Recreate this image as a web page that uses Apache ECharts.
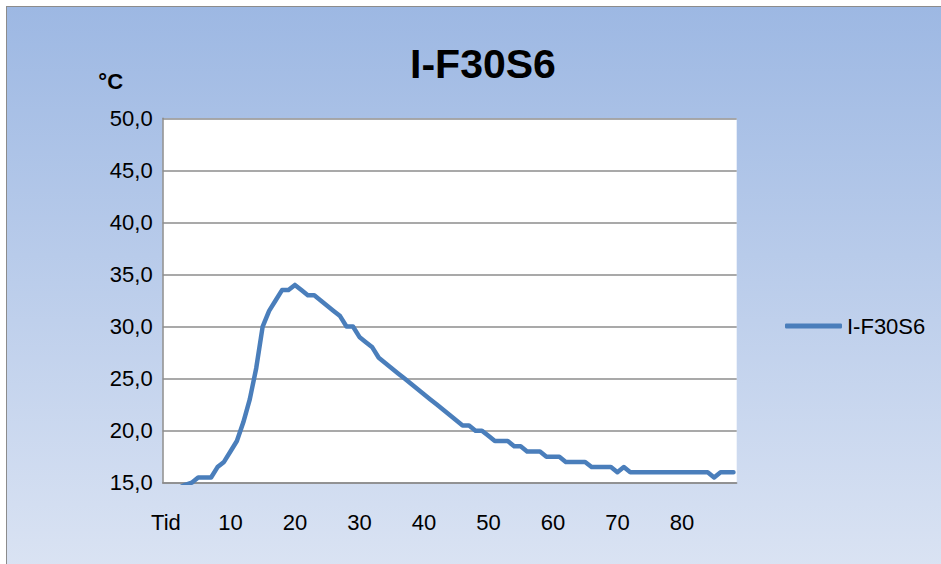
<!DOCTYPE html>
<html>
<head>
<meta charset="utf-8">
<title>I-F30S6</title>
<script src="https://cdn.jsdelivr.net/npm/echarts@6/dist/echarts.min.js"></script>
<style>
  html, body { margin: 0; padding: 0; background: #ffffff; }
  #frame {
    position: absolute; left: 6px; top: 6px; width: 940px; height: 562px;
    border-left: 1.5px solid #8c8c8c; border-top: 1.5px solid #8c8c8c;
    background: linear-gradient(to bottom, #9db8e3 0%, #dae3f3 100%);
  }
  #chart { position: absolute; left: 0; top: 0; width: 941px; height: 564px; }
</style>
</head>
<body>
<div id="frame"></div>
<div id="chart"></div>
<script>
// Time steps (first category is the column header "Tid")
const categories = ['Tid',
  '1','2','3','4','5','6','7','8','9','10',
  '11','12','13','14','15','16','17','18','19','20',
  '21','22','23','24','25','26','27','28','29','30',
  '31','32','33','34','35','36','37','38','39','40',
  '41','42','43','44','45','46','47','48','49','50',
  '51','52','53','54','55','56','57','58','59','60',
  '61','62','63','64','65','66','67','68','69','70',
  '71','72','73','74','75','76','77','78','79','80',
  '81','82','83','84','85','86','87','88'];

// Measured temperature, °C
const temperature = [null,
  null, 14.5, 14.8, 15.0, 15.5, 15.5, 15.5, 16.5, 17.0, 18.0,
  19.0, 20.8, 23.0, 26.0, 30.0, 31.5, 32.5, 33.5, 33.5, 34.0,
  33.5, 33.0, 33.0, 32.5, 32.0, 31.5, 31.0, 30.0, 30.0, 29.0,
  28.5, 28.0, 27.0, 26.5, 26.0, 25.5, 25.0, 24.5, 24.0, 23.5,
  23.0, 22.5, 22.0, 21.5, 21.0, 20.5, 20.5, 20.0, 20.0, 19.5,
  19.0, 19.0, 19.0, 18.5, 18.5, 18.0, 18.0, 18.0, 17.5, 17.5,
  17.5, 17.0, 17.0, 17.0, 17.0, 16.5, 16.5, 16.5, 16.5, 16.0,
  16.5, 16.0, 16.0, 16.0, 16.0, 16.0, 16.0, 16.0, 16.0, 16.0,
  16.0, 16.0, 16.0, 16.0, 15.5, 16.0, 16.0, 16.0];

const seriesName = 'I-F30S6';
const yMin = 15, yMax = 50, yStep = 5;

const FONT = '"Liberation Sans", Arial, sans-serif';
const GRID_GRAY = '#8c8c8c';
const LINE_BLUE = '#4a7ebb';

const chart = echarts.init(document.getElementById('chart'), null, { renderer: 'svg' });

chart.setOption({
  backgroundColor: 'transparent',
  animation: false,
  title: {
    text: 'I-F30S6',
    left: 478, top: 38, textAlign: 'center',
    textStyle: { fontFamily: FONT, fontSize: 41, fontWeight: 'bold', color: '#000' }
  },
  legend: {
    data: [{ name: seriesName, icon: 'roundRect' }],
    left: 785, top: 315,
    padding: 0,
    itemWidth: 57, itemHeight: 5,
    itemStyle: { color: LINE_BLUE },
    textStyle: { fontFamily: FONT, fontSize: 22, color: '#000' }
  },
  grid: {
    left: 162.7, top: 118.3, right: 204.3, bottom: 81.3,
    show: true, backgroundColor: '#ffffff', borderWidth: 0
  },
  xAxis: {
    type: 'category',
    data: categories,
    boundaryGap: true,
    axisLine: { show: true, lineStyle: { color: GRID_GRAY, width: 1.5 } },
    axisTick: { show: false },
    axisLabel: {
      interval: 9, margin: 29,
      fontFamily: FONT, fontSize: 22, color: '#000'
    },
    splitLine: { show: false }
  },
  yAxis: {
    type: 'value',
    min: yMin, max: yMax, interval: yStep,
    name: '°C',
    nameLocation: 'end',
    nameGap: 0,
    nameTextStyle: {
      fontFamily: FONT, fontSize: 22, fontWeight: 'bold', color: '#000',
      align: 'center', verticalAlign: 'bottom', padding: [0, 0, 26, -104]
    },
    axisLine: { show: true, lineStyle: { color: GRID_GRAY, width: 1.5 } },
    axisTick: { show: false },
    axisLabel: {
      margin: 10,
      fontFamily: FONT, fontSize: 22, color: '#000',
      formatter: v => v.toFixed(1).replace('.', ',')
    },
    splitLine: { show: true, lineStyle: { color: GRID_GRAY, width: 1.5 } }
  },
  series: [{
    name: seriesName,
    type: 'line',
    data: temperature,
    symbol: 'none',
    showSymbol: false,
    clip: true,
    connectNulls: false,
    lineStyle: { color: LINE_BLUE, width: 4.5, cap: 'round', join: 'round' },
    itemStyle: { color: LINE_BLUE }
  }]
});
</script>
</body>
</html>
